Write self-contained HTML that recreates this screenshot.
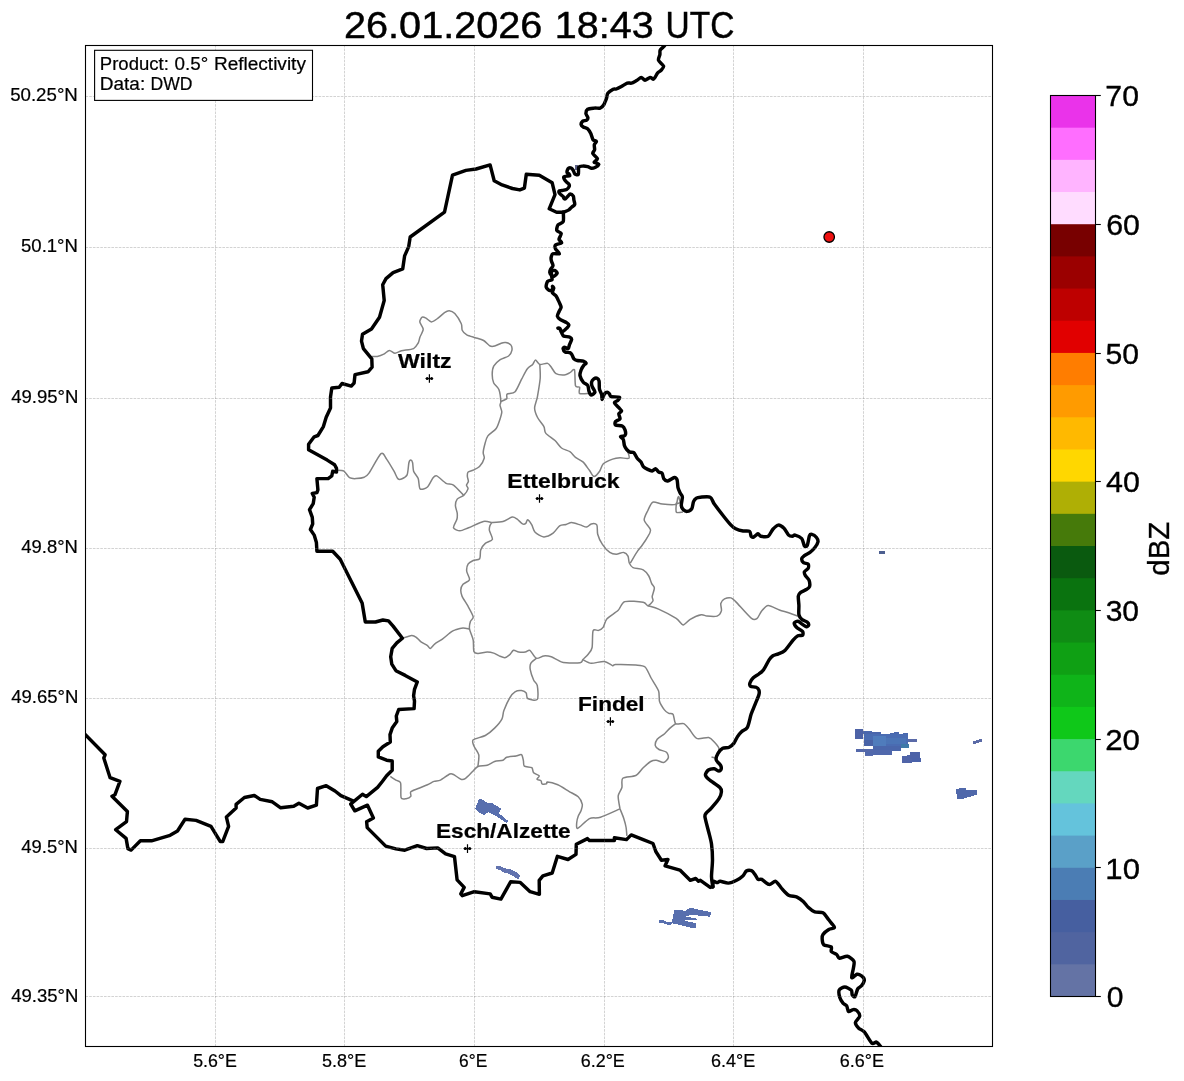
<!DOCTYPE html>
<html><head><meta charset="utf-8"><title>Radar</title>
<style>html,body{margin:0;padding:0;background:#fff;}body{width:1184px;height:1081px;overflow:hidden;}svg{display:block;will-change:transform;}text{font-family:"Liberation Sans",sans-serif;fill:#000;}</style></head><body>
<svg width="1184" height="1081" viewBox="0 0 1184 1081">
<rect x="0" y="0" width="1184" height="1081" fill="#ffffff"/>
<defs><clipPath id="ax"><rect x="85.5" y="45.5" width="907.0" height="1001.0"/></clipPath></defs>
<g clip-path="url(#ax)">
<g shape-rendering="crispEdges">
<path d="M475.1 808.7 L478.9 799.3 L481.2 799.1 L488.3 803.4 L490.3 803.4 L491.8 802.9 L496.4 805.7 L500.9 808.7 L500.4 810.8 L498.9 813.3 L508.0 820.9 L507.0 822.7 L505.5 822.4 L496.4 816.3 L492.3 813.8 L488.3 812.3 L484.7 814.6 L482.7 814.6 L478.1 811.8 Z" fill="#586fae"/>
<path d="M495.9 866.1 L499.5 865.9 L507.9 869.5 L510.6 869.0 L518.4 873.5 L519.9 874.9 L519.8 876.9 L518.7 878.6 L517.4 878.6 L513.0 876.2 L507.9 873.5 L504.2 872.5 L499.1 869.7 L495.9 868.8 Z" fill="#6273af"/>
<path d="M659.1 920.4 L663.5 920.4 L667.1 922.2 L671.8 922.2 L672.4 919.2 L673.3 914.5 L674.2 910.3 L681.0 910.3 L686.3 910.9 L687.5 908.6 L692.8 908.3 L698.1 909.5 L706.4 911.2 L710.8 912.4 L710.5 914.8 L709.6 916.6 L704.0 916.3 L696.9 915.4 L690.4 915.1 L686.9 916.0 L685.7 917.1 L692.8 917.7 L696.6 918.6 L696.6 920.4 L691.6 920.4 L685.1 920.1 L685.1 921.0 L692.2 922.2 L696.3 923.4 L696.0 927.5 L690.4 927.5 L683.9 926.0 L676.8 924.2 L672.1 923.4 L671.5 924.5 L667.4 924.5 L662.6 923.1 L659.1 922.5 Z" fill="#586fae"/>
<path d="M973.1 741.4 L975.9 740.4 L979.0 739.4 L982.1 739.0 L982.1 741.8 L979.0 742.5 L975.9 743.5 L973.1 743.9 Z" fill="#5a6aa6"/>
<path d="M956.1 789.3 L960.3 788.3 L965.8 788.3 L966.8 790.3 L971.4 790.3 L976.9 790.0 L976.9 794.5 L970.7 796.6 L963.0 798.7 L957.1 798.7 L957.1 793.8 L956.1 793.5 Z" fill="#5068aa"/>
<path d="M879.1 551.0 L885.0 551.0 L885.0 553.8 L879.1 553.8 Z" fill="#4d5f90"/>
<path d="M575.1 165.2 L578.4 165.2 L578.4 169.5 L575.1 169.5 Z" fill="#5a5f85"/>
<path d="M855.1 729.2 L863.2 729.2 L863.2 738.6 L855.1 738.6 Z" fill="#4d62a6"/>
<path d="M863.2 731.3 L872.1 731.3 L872.1 734.4 L863.2 734.4 Z" fill="#4a68ae"/>
<path d="M863.2 732.3 L880.8 732.3 L880.8 734.4 L863.2 734.4 Z" fill="#4a66ab"/>
<path d="M864.1 734.2 L908.1 734.2 L908.1 746.4 L864.1 746.4 Z" fill="#4a6cb2"/>
<path d="M890.1 733.2 L898.8 733.2 L898.8 734.4 L890.1 734.4 Z" fill="#4a68ae"/>
<path d="M894.3 731.9 L898.8 731.9 L898.8 733.4 L894.3 733.4 Z" fill="#4a68ae"/>
<path d="M903.3 733.2 L907.8 733.2 L907.8 734.4 L903.3 734.4 Z" fill="#4a68ae"/>
<path d="M908.1 739.0 L917.1 739.0 L917.1 741.6 L908.1 741.6 Z" fill="#5a6aa8"/>
<path d="M901.3 744.0 L908.7 744.0 L908.7 747.7 L901.3 747.7 Z" fill="#3f7aa8"/>
<path d="M873.1 746.2 L901.0 746.2 L901.0 750.6 L873.1 750.6 Z" fill="#4a66ab"/>
<path d="M865.4 750.4 L891.7 750.4 L891.7 754.7 L865.4 754.7 Z" fill="#5068ac"/>
<path d="M865.4 754.5 L873.1 754.5 L873.1 755.7 L865.4 755.7 Z" fill="#5a6cae"/>
<path d="M856.1 749.3 L873.1 749.3 L873.1 751.8 L856.1 751.8 Z" fill="#5468aa"/>
<path d="M873.0 736.0 L886.0 736.0 L886.0 745.5 L873.0 745.5 Z" fill="#4f7cbc"/>
<path d="M886.0 737.5 L906.0 737.5 L906.0 743.5 L886.0 743.5 Z" fill="#4b74b6"/>
<path d="M864.1 740.0 L873.0 740.0 L873.0 746.4 L864.1 746.4 Z" fill="#4862a6"/>
<path d="M902.3 756.3 L911.9 756.3 L911.9 762.8 L902.3 762.8 Z" fill="#5064a8"/>
<path d="M906.5 755.1 L911.9 755.1 L911.9 756.5 L906.5 756.5 Z" fill="#5064a8"/>
<path d="M910.3 752.2 L919.6 752.2 L919.6 758.5 L910.3 758.5 Z" fill="#4c62a8"/>
<path d="M911.9 758.3 L920.9 758.3 L920.9 761.8 L911.9 761.8 Z" fill="#4a62aa"/>
</g>
<g fill="none" stroke="#828282" stroke-width="1.5" stroke-linejoin="round" stroke-linecap="butt">
<path d="M371.8 356.4 C372.5 356.4 375.7 356.7 377.3 356.4 C378.9 356.1 382.2 355.0 383.8 354.2 C385.4 353.4 387.9 350.5 389.4 350.4 C390.9 350.3 393.4 353.1 395.0 353.2 C396.6 353.3 399.0 351.4 401.5 350.8 C404.0 350.2 411.4 349.6 413.6 348.6 C415.8 347.6 417.3 344.5 418.2 343.0 C419.1 341.5 419.3 338.8 420.0 337.0 C420.7 335.2 423.2 331.3 423.2 329.3 C423.2 327.3 419.9 323.5 419.8 321.9 C419.7 320.3 421.4 317.7 422.2 317.2 C423.0 316.7 424.8 317.6 426.0 318.2 C427.2 318.8 429.9 321.9 431.5 321.9 C433.1 321.9 436.3 319.4 438.0 318.2 C439.7 317.0 443.0 313.6 444.5 312.6 C446.0 311.6 447.8 310.6 449.2 310.7 C450.6 310.8 453.2 311.8 454.8 313.5 C456.4 315.2 460.3 321.5 461.3 323.7 C462.3 325.9 461.5 328.7 462.2 330.2 C462.9 331.7 465.1 333.9 466.8 334.9 C468.5 335.9 473.0 337.0 475.2 337.7 C477.4 338.4 481.6 339.4 483.6 340.5 C485.6 341.6 488.6 345.3 490.1 346.0 C491.6 346.7 493.2 346.4 494.7 346.0 C496.2 345.6 499.7 343.7 501.2 343.2 C502.7 342.7 504.5 342.4 505.8 342.6 C507.1 342.8 510.0 343.9 510.8 344.9 C511.6 345.9 512.2 348.9 511.9 350.4 C511.6 351.9 510.2 354.8 508.6 356.0 C507.0 357.2 502.2 358.3 500.2 359.7 C498.2 361.1 494.8 364.2 493.7 366.2 C492.6 368.2 492.2 372.4 492.2 374.6 C492.2 376.8 492.8 381.0 493.7 383.0 C494.6 385.0 498.0 387.0 498.9 389.5 C499.8 392.0 500.7 399.4 500.8 401.5 C500.9 403.6 499.9 403.9 500.0 405.3 C500.1 406.7 501.8 409.9 501.8 411.8 C501.8 413.7 500.7 417.0 500.0 419.2 C499.3 421.4 497.8 426.3 496.2 428.5 C494.6 430.7 489.4 433.9 487.9 435.9 C486.4 437.9 485.7 441.1 485.1 443.3 C484.5 445.5 483.3 450.6 483.2 452.6 C483.1 454.6 484.7 456.3 484.2 458.2 C483.7 460.1 481.0 465.0 479.5 466.6 C478.0 468.2 474.5 469.6 473.0 470.3 C471.5 471.0 468.7 471.2 468.0 472.1 C467.3 473.0 467.3 475.6 467.4 476.8 C467.5 478.0 468.5 480.3 468.4 481.4 C468.3 482.5 466.6 484.1 466.5 485.1 C466.4 486.1 468.4 487.5 468.0 488.9 C467.6 490.3 465.1 494.0 463.7 495.4 C462.3 496.8 458.3 497.7 457.2 499.1 C456.1 500.5 455.4 503.7 455.4 505.6 C455.4 507.5 457.0 511.2 457.2 513.0 C457.4 514.8 457.4 517.3 456.9 519.3 C456.4 521.3 453.1 526.2 453.5 527.7 C453.9 529.2 458.0 530.8 460.0 530.8 C462.0 530.8 465.5 528.9 468.6 527.7 C471.7 526.5 480.3 522.2 483.4 521.5 C486.5 520.8 490.7 522.5 491.8 522.6"/>
<path d="M500.8 401.5 C501.6 401.1 505.9 399.7 506.7 398.7 C507.5 397.7 506.0 395.0 507.1 394.1 C508.2 393.2 513.2 393.7 515.1 391.7 C517.0 389.7 520.0 382.2 521.6 379.2 C523.2 376.2 525.7 371.0 527.2 369.0 C528.7 367.0 531.6 365.6 532.7 364.4 C533.8 363.2 534.6 360.1 535.5 360.1 C536.4 360.1 538.2 364.0 539.8 364.4 C541.4 364.8 546.1 363.0 547.6 363.4 C549.1 363.8 550.2 365.8 551.3 367.2 C552.4 368.6 554.3 372.7 556.0 373.7 C557.7 374.7 562.4 375.1 564.3 375.0 C566.2 374.9 568.5 373.4 569.9 372.7 C571.3 372.0 573.8 368.2 574.5 369.9 C575.2 371.6 574.8 383.4 575.5 385.7 C576.2 388.0 579.1 386.2 579.6 387.2 C580.1 388.2 578.3 392.7 579.6 393.5 C580.9 394.3 588.1 393.5 589.4 393.5"/>
<path d="M539.8 364.4 C539.9 366.3 540.5 374.0 540.2 378.3 C539.9 382.6 538.1 392.9 537.4 396.9 C536.7 400.9 534.6 405.3 534.6 408.0 C534.6 410.7 536.2 414.8 537.4 417.3 C538.6 419.8 542.8 424.5 543.9 426.6 C545.0 428.7 544.2 431.2 545.7 433.1 C547.2 435.0 552.9 438.5 555.0 440.5 C557.1 442.5 559.5 446.5 561.5 448.0 C563.5 449.5 568.0 450.5 569.9 451.7 C571.8 452.9 573.8 455.9 575.5 457.3 C577.2 458.7 581.0 460.2 582.9 461.9 C584.8 463.6 587.9 468.4 589.4 470.3 C590.9 472.2 592.6 476.3 594.0 476.4 C595.4 476.5 598.4 472.9 599.6 471.2 C600.8 469.5 601.6 465.4 603.3 463.8 C605.0 462.2 610.4 459.9 612.6 459.1 C614.8 458.3 617.9 457.9 620.1 457.8 C622.3 457.7 628.0 459.1 629.0 458.2 C630.0 457.3 627.7 451.8 627.5 450.8"/>
<path d="M336.5 470.3 C337.5 470.4 342.2 470.2 343.9 471.2 C345.6 472.2 347.9 476.7 349.5 477.7 C351.1 478.7 354.0 478.7 356.0 478.6 C358.0 478.5 362.6 477.9 364.3 477.2 C366.0 476.5 366.8 476.2 369.0 473.1 C371.2 470.0 378.7 455.5 381.0 453.6 C383.3 451.7 384.9 456.8 386.6 459.1 C388.3 461.4 392.5 468.6 394.0 471.2 C395.5 473.8 396.8 477.6 397.8 478.6 C398.8 479.6 400.3 479.5 401.5 479.0 C402.7 478.5 406.1 477.1 407.1 474.9 C408.1 472.7 408.4 464.8 408.9 462.8 C409.4 460.8 410.3 460.1 410.8 460.1 C411.3 460.1 412.2 461.3 412.6 462.8 C413.0 464.3 412.9 469.1 413.6 471.2 C414.3 473.3 417.3 476.2 418.2 478.6 C419.1 481.0 418.9 487.8 420.1 488.9 C421.3 490.0 425.8 488.5 427.5 487.0 C429.2 485.5 431.9 479.2 433.1 477.7 C434.3 476.2 435.1 475.2 436.8 475.9 C438.5 476.6 443.9 482.1 446.1 483.3 C448.3 484.5 451.2 483.5 453.5 485.1 C455.8 486.7 462.3 494.0 463.7 495.4"/>
<path d="M491.8 522.6 C493.3 522.5 500.3 522.2 503.0 521.5 C505.7 520.8 510.3 517.4 512.2 517.1 C514.1 516.8 515.5 518.0 516.9 518.9 C518.3 519.8 521.3 523.3 522.5 523.9 C523.7 524.5 525.1 524.0 525.8 523.4 C526.5 522.8 526.9 519.5 527.7 519.7 C528.5 519.9 530.8 523.2 531.8 524.9 C532.8 526.6 533.5 530.7 535.1 532.3 C536.7 533.9 541.4 536.8 543.8 536.9 C546.2 537.0 551.0 534.7 553.1 533.2 C555.2 531.7 557.9 527.0 559.6 525.8 C561.3 524.6 564.5 524.9 566.1 524.5 C567.7 524.1 569.8 522.5 571.7 522.6 C573.6 522.7 578.1 524.3 580.1 524.9 C582.1 525.5 585.1 527.2 586.6 527.1 C588.1 527.0 589.8 524.2 591.2 523.9 C592.6 523.6 595.9 523.5 596.8 524.9 C597.7 526.3 597.0 531.6 597.7 534.2 C598.4 536.8 600.8 542.0 602.4 544.4 C604.0 546.8 607.9 551.1 609.8 552.4 C611.7 553.7 614.4 554.2 616.3 554.2 C618.2 554.2 622.1 552.1 623.7 552.4 C625.3 552.7 627.3 554.7 628.0 556.1 C628.7 557.5 628.6 561.5 629.3 563.0 C630.0 564.5 631.1 566.7 633.0 567.6 C634.9 568.5 641.1 568.7 643.2 569.8 C645.3 570.9 647.7 574.2 648.8 576.0 C649.9 577.8 650.9 581.8 651.6 583.4 C652.3 585.0 654.3 586.3 654.4 588.0 C654.5 589.7 652.4 594.7 652.2 596.4 C652.0 598.1 653.5 599.8 652.9 601.0 C652.3 602.2 649.2 605.5 647.9 605.7 C646.6 605.9 646.3 602.8 643.2 602.3 C640.1 601.8 628.0 600.5 624.7 601.6 C621.4 602.7 620.6 608.0 618.2 610.3 C615.8 612.6 609.0 616.5 607.0 618.7 C605.0 620.9 604.4 625.5 603.3 627.1 C602.2 628.7 600.0 629.9 598.6 630.4 C597.2 630.9 594.0 628.5 593.1 630.8 C592.2 633.1 592.7 644.4 592.1 647.5 C591.5 650.6 589.6 652.4 588.4 654.0 C587.2 655.6 584.0 658.4 582.9 659.6 C581.8 660.8 582.7 662.3 580.1 662.7 C577.5 663.1 566.3 662.7 563.3 662.4 C560.3 662.1 559.4 660.8 557.8 660.1 C556.2 659.4 553.2 657.4 551.3 656.8 C549.4 656.2 545.8 655.7 543.8 655.9 C541.8 656.1 538.3 659.0 536.4 658.3 C534.5 657.6 531.4 651.1 529.9 650.3 C528.4 649.5 526.8 651.9 525.3 652.1 C523.8 652.3 520.3 652.3 518.7 652.1 C517.1 651.9 514.7 649.9 513.5 650.3 C512.3 650.7 510.7 653.9 509.5 654.9 C508.3 655.9 506.2 657.6 504.8 657.7 C503.4 657.8 500.7 656.5 499.2 655.9 C497.7 655.3 495.3 653.6 493.7 653.1 C492.1 652.6 489.3 652.1 487.2 652.1 C485.1 652.1 479.7 653.5 477.9 653.4 C476.1 653.3 474.4 653.0 473.8 651.2 C473.2 649.4 473.8 643.1 473.2 640.1 C472.6 637.1 469.9 631.4 469.5 628.9 C469.1 626.4 469.9 623.1 470.4 621.5 C470.9 619.9 473.6 618.9 473.2 616.8 C472.8 614.7 469.2 608.4 467.7 605.7 C466.2 603.0 463.0 598.5 462.1 596.4 C461.2 594.3 460.7 591.5 460.8 589.9 C460.9 588.3 461.8 585.7 463.0 584.3 C464.2 582.9 469.0 581.4 469.5 579.7 C470.0 578.0 466.9 573.4 466.7 571.3 C466.5 569.2 467.3 565.3 468.2 563.9 C469.1 562.5 471.7 561.2 473.2 560.5 C474.7 559.8 478.7 560.1 479.7 558.7 C480.7 557.3 480.0 551.9 480.7 549.9 C481.4 547.9 483.7 544.8 485.3 543.4 C486.9 542.0 491.9 541.1 492.4 539.4 C492.9 537.7 489.7 532.2 489.4 530.4 C489.1 528.6 489.6 526.8 489.9 525.8 C490.2 524.8 491.5 523.0 491.8 522.6"/>
<path d="M630.3 563.0 C631.3 561.4 636.1 553.2 637.7 550.9 C639.3 548.6 640.8 547.2 642.0 545.5 C643.2 543.8 645.9 540.0 647.0 537.9 C648.1 535.8 650.9 532.4 650.5 530.0 C650.1 527.6 644.5 522.6 644.2 520.0 C643.9 517.4 646.9 512.6 648.0 510.2 C649.1 507.8 650.9 503.0 652.8 502.2 C654.7 501.4 659.3 503.8 662.3 504.1 C665.3 504.4 673.4 505.2 675.5 504.4 C677.6 503.6 677.3 499.2 677.7 498.2 C678.1 497.2 678.5 496.2 678.8 496.8 C679.1 497.4 680.2 501.5 679.9 502.5 C679.6 503.5 677.0 503.0 676.5 504.3 C676.0 505.6 675.6 511.3 676.5 512.3 C677.4 513.3 682.1 512.0 683.0 512.0"/>
<path d="M647.9 605.7 C649.3 606.2 654.8 607.4 658.6 609.1 C662.4 610.8 672.9 616.3 676.2 618.4 C679.5 620.5 681.2 624.8 683.1 624.9 C685.0 625.0 687.8 620.7 690.2 619.3 C692.6 617.9 699.1 615.1 701.3 614.7 C703.5 614.3 704.8 615.9 706.9 616.1 C709.0 616.3 715.2 616.8 717.1 616.1 C719.0 615.4 720.9 612.6 721.4 610.9 C721.9 609.2 720.4 605.1 720.8 603.5 C721.2 601.9 723.1 599.6 724.5 598.9 C725.9 598.2 729.5 597.5 731.0 597.9 C732.5 598.3 733.0 598.9 735.7 601.6 C738.4 604.3 748.6 616.2 751.5 618.4 C754.4 620.6 755.7 619.4 757.1 618.4 C758.5 617.4 760.2 612.6 761.7 610.9 C763.2 609.2 765.8 605.5 768.2 605.4 C770.6 605.3 776.7 609.0 779.4 610.0 C782.1 611.0 786.0 611.9 788.6 612.8 C791.2 613.7 797.5 616.0 798.9 616.5"/>
<path d="M469.5 628.9 C468.6 628.8 464.9 627.9 463.0 628.0 C461.1 628.1 457.1 629.3 455.6 629.8 C454.1 630.3 453.4 630.5 451.6 631.7 C449.8 632.9 444.6 637.5 442.4 639.1 C440.2 640.7 436.5 642.6 434.9 643.8 C433.3 645.0 431.3 648.2 430.3 648.4 C429.3 648.6 428.7 646.5 427.5 645.6 C426.3 644.7 422.5 643.0 421.0 641.9 C419.5 640.8 417.5 638.2 416.3 637.3 C415.1 636.4 413.6 635.3 411.7 635.4 C409.8 635.5 403.6 637.8 402.4 638.2"/>
<path d="M536.4 658.3 C535.7 659.0 531.6 661.8 530.8 663.3 C530.0 664.8 529.9 667.6 530.3 669.8 C530.7 672.0 532.7 677.9 533.6 680.0 C534.5 682.1 536.8 683.0 537.3 685.6 C537.8 688.2 538.6 697.7 537.3 699.4 C536.0 701.1 529.2 699.4 527.7 698.5 C526.2 697.6 527.0 694.1 526.2 693.0 C525.4 691.9 523.0 690.8 521.5 690.6 C520.0 690.4 516.5 690.9 515.0 691.8 C513.5 692.7 511.5 695.0 510.0 697.5 C508.5 700.0 505.0 707.6 503.9 710.4 C502.8 713.2 503.2 716.4 502.0 718.8 C500.8 721.2 496.8 725.9 494.6 728.1 C492.4 730.3 488.2 733.9 485.3 735.5 C482.4 737.1 474.7 738.4 473.2 739.8 C471.7 741.2 473.1 743.7 473.8 745.7 C474.5 747.7 478.3 752.2 478.8 755.0 C479.3 757.8 478.0 765.0 477.9 766.5"/>
<path d="M390.3 776.4 C391.0 776.9 394.5 779.2 395.9 780.1 C397.3 781.0 399.9 780.5 400.6 782.9 C401.3 785.3 400.4 795.7 401.1 797.8 C401.8 799.9 404.8 798.9 406.1 798.7 C407.4 798.5 410.2 797.2 410.8 796.3 C411.4 795.4 409.8 792.8 410.8 791.8 C411.8 790.8 416.0 789.4 418.2 788.5 C420.4 787.6 425.4 785.7 427.5 784.8 C429.6 783.9 432.3 782.0 434.0 781.4 C435.7 780.8 438.4 781.1 440.5 780.1 C442.6 779.1 448.1 774.7 449.8 774.0 C451.5 773.3 452.0 773.8 453.5 774.5 C455.0 775.2 459.3 778.7 460.9 779.2 C462.5 779.7 464.1 779.3 465.6 778.3 C467.1 777.3 470.7 773.4 472.3 771.8 C473.9 770.2 475.9 767.4 477.9 766.5 C479.9 765.6 485.0 766.0 487.2 765.3 C489.4 764.6 492.5 762.2 494.6 761.5 C496.7 760.8 501.4 760.8 503.0 760.2 C504.6 759.6 505.0 757.9 506.7 757.3 C508.4 756.7 514.0 756.3 516.0 756.0 C518.0 755.7 520.5 754.1 521.5 754.7 C522.5 755.3 523.0 759.1 523.4 760.6 C523.8 762.1 523.2 765.3 524.3 766.2 C525.4 767.1 530.6 766.8 531.8 767.7 C533.0 768.6 532.6 771.6 533.6 772.7 C534.6 773.8 538.7 774.9 539.2 775.8 C539.7 776.7 536.8 778.5 537.0 779.2 C537.2 779.9 540.3 780.1 541.0 780.7 C541.7 781.3 541.3 783.4 542.0 783.8 C542.7 784.2 545.9 784.0 546.6 783.8 C547.3 783.6 546.0 781.9 547.5 782.0 C549.0 782.1 554.9 783.6 557.8 784.8 C560.7 786.0 566.2 789.7 568.9 791.3 C571.6 792.9 576.4 795.1 578.2 796.8 C580.0 798.5 581.9 802.4 582.3 804.3 C582.7 806.2 581.5 809.2 581.0 810.8 C580.5 812.4 578.8 814.7 578.2 816.3 C577.6 817.9 576.8 821.2 576.7 822.8 C576.6 824.4 576.1 829.0 577.8 828.4 C579.5 827.8 586.4 820.1 589.4 818.6 C592.4 817.1 596.4 818.6 600.5 817.3 C604.6 816.0 617.4 810.0 620.0 808.9"/>
<path d="M620.0 808.9 C620.5 810.1 622.9 815.7 623.7 818.2 C624.5 820.7 625.7 825.1 626.1 827.5 C626.5 829.9 626.8 834.8 626.9 835.9"/>
<path d="M620.0 808.9 C619.8 807.2 617.9 798.8 618.2 795.9 C618.5 793.0 621.3 789.8 621.9 787.5 C622.5 785.2 620.9 779.9 622.8 778.3 C624.7 776.7 633.1 776.9 635.8 775.5 C638.5 774.1 641.2 769.6 643.2 767.7 C645.2 765.8 649.0 762.5 650.7 761.5 C652.4 760.5 654.5 760.1 656.2 760.2 C657.9 760.3 662.1 762.8 663.7 762.5 C665.3 762.2 667.9 759.2 668.3 757.8 C668.7 756.4 667.7 753.3 666.5 752.2 C665.3 751.1 660.5 750.4 659.0 749.5 C657.5 748.6 655.5 747.1 655.3 745.7 C655.1 744.3 656.0 740.8 657.2 739.2 C658.4 737.6 662.9 735.2 664.6 733.7 C666.3 732.2 668.5 729.4 670.0 728.1 C671.5 726.8 674.9 724.2 675.7 723.6"/>
<path d="M582.9 659.6 C584.0 660.1 588.4 663.1 591.2 663.3 C594.0 663.5 601.3 661.1 604.2 661.4 C607.1 661.7 611.1 665.3 612.6 665.7 C614.1 666.1 612.3 664.7 615.4 664.6 C618.5 664.5 631.8 664.8 635.8 665.1 C639.8 665.4 643.1 665.3 645.1 667.0 C647.1 668.7 649.3 674.8 651.1 678.0 C652.9 681.2 657.5 687.9 658.6 691.0 C659.7 694.1 658.8 698.8 659.5 701.3 C660.2 703.8 663.0 708.0 664.2 709.6 C665.4 711.2 667.6 712.7 668.8 713.3 C670.0 713.9 672.2 712.9 673.1 714.3 C674.0 715.7 674.3 722.4 675.7 723.6 C677.1 724.8 681.9 722.9 683.7 723.6 C685.5 724.3 687.5 727.1 689.2 729.1 C690.9 731.1 694.1 737.3 696.7 738.4 C699.3 739.5 706.4 737.0 708.7 737.5 C711.0 738.0 712.9 740.6 714.3 742.1 C715.7 743.6 718.6 747.1 719.0 748.6 C719.4 750.1 717.7 752.8 717.5 753.5"/>
<path d="M711.5 757.0 L715.3 757.9"/>
</g>
<g fill="none" stroke="#000" stroke-width="3.45" stroke-linejoin="round" stroke-linecap="round">
<path d="M563.3 212.2 C563.3 213.5 563.9 220.0 563.2 221.7 C562.5 223.4 559.0 223.6 558.1 224.8 C557.2 226.0 556.4 229.3 556.8 230.5 C557.2 231.7 560.9 232.3 561.2 233.5 C561.5 234.7 558.9 238.1 559.0 239.3 C559.1 240.5 562.1 242.0 561.6 242.8 C561.1 243.6 556.3 244.2 555.5 245.0 C554.7 245.8 555.0 247.7 555.5 248.9 C556.0 250.1 559.8 253.1 559.4 253.7 C559.0 254.3 553.9 253.2 552.8 253.7 C551.7 254.2 551.3 256.7 551.1 257.7 C550.9 258.7 551.2 260.1 551.5 261.2 C551.8 262.3 553.1 264.5 553.0 265.6 C552.9 266.7 550.9 268.6 550.5 269.5 C550.1 270.4 549.7 271.7 549.8 272.5 C549.9 273.3 550.9 274.7 551.5 275.2 C552.1 275.7 553.4 276.4 554.2 276.1 C555.0 275.8 557.1 273.9 557.2 273.1 C557.3 272.3 555.3 270.6 554.6 270.4 C553.9 270.2 552.0 270.9 551.6 271.6 C551.2 272.3 551.5 274.9 551.6 276.0 C551.7 277.1 552.5 279.0 552.0 279.7 C551.5 280.4 548.4 280.4 547.6 281.4 C546.8 282.4 545.9 285.9 546.2 287.1 C546.5 288.3 548.8 290.4 549.8 290.6 C550.8 290.8 553.4 289.0 553.7 288.4 C554.0 287.8 552.5 286.3 552.4 286.4 C552.3 286.5 553.3 288.6 553.3 289.5 C553.3 290.4 552.0 291.9 552.4 292.8 C552.8 293.7 555.5 295.3 556.3 296.3 C557.1 297.3 557.6 299.1 558.1 300.0 C558.6 300.9 559.3 302.4 559.7 303.4 C560.1 304.4 561.2 306.3 561.1 307.4 C561.0 308.5 559.6 310.3 559.1 311.5 C558.6 312.7 557.2 315.1 557.4 316.2 C557.6 317.3 559.2 318.7 560.4 319.6 C561.6 320.5 565.4 321.9 566.5 322.6 C567.6 323.3 568.8 324.3 568.9 325.0 C569.0 325.7 568.1 326.8 567.2 327.7 C566.3 328.6 563.4 331.7 562.4 331.8 C561.4 331.9 560.3 328.9 559.7 328.4 C559.1 327.9 557.9 328.2 557.9 328.2 C557.9 328.2 559.2 327.9 559.7 328.6 C560.2 329.3 561.3 332.1 561.8 333.1 C562.3 334.1 562.7 335.6 563.8 336.1 C564.9 336.6 568.9 336.7 569.9 337.2 C570.9 337.7 571.7 338.5 571.6 339.5 C571.5 340.5 570.0 343.4 569.5 344.6 C569.0 345.8 568.9 348.2 568.2 348.6 C567.5 349.0 565.2 347.3 564.5 347.3 C563.8 347.3 563.0 348.0 563.1 348.6 C563.2 349.2 564.2 351.5 565.1 352.0 C566.0 352.5 569.0 352.3 569.9 352.7 C570.8 353.1 571.4 353.9 571.9 354.7 C572.4 355.5 573.2 358.0 573.9 358.8 C574.6 359.6 576.0 360.2 577.3 360.5 C578.6 360.8 582.2 360.7 583.4 361.1 C584.6 361.5 586.0 362.7 586.1 363.2 C586.2 363.7 584.8 364.0 584.1 364.9 C583.4 365.8 581.6 368.6 581.1 370.0 C580.6 371.4 579.7 374.0 580.0 375.6 C580.3 377.2 582.3 380.9 583.3 382.2 C584.3 383.5 587.1 384.3 587.8 385.5 C588.5 386.7 588.5 389.8 588.9 391.1 C589.3 392.4 590.3 394.9 591.1 395.0 C591.9 395.1 594.9 393.3 595.0 392.2 C595.1 391.1 592.7 388.0 592.2 386.7 C591.7 385.4 591.4 383.2 591.6 382.2 C591.8 381.2 593.2 379.4 593.9 378.9 C594.6 378.4 596.5 378.0 597.2 378.3 C597.9 378.6 598.8 379.7 599.1 381.1 C599.4 382.5 599.1 387.1 599.4 388.9 C599.7 390.7 601.2 393.0 601.6 394.4 C602.0 395.8 601.8 399.5 602.2 399.4 C602.6 399.3 603.7 394.9 604.4 393.9 C605.1 392.9 606.5 392.2 607.2 392.2 C607.9 392.2 608.9 393.3 609.4 393.9 C609.9 394.5 609.8 396.2 611.1 396.6 C612.4 397.0 618.5 396.7 619.4 397.2 C620.3 397.7 618.4 399.8 617.7 400.5 C617.0 401.2 614.3 401.7 614.4 402.7 C614.5 403.7 617.8 406.6 618.8 407.7 C619.8 408.8 621.6 410.3 621.6 411.1 C621.6 411.9 619.0 412.8 618.8 413.8 C618.6 414.8 620.4 417.8 620.0 418.8 C619.6 419.8 616.1 420.8 615.5 421.6 C614.9 422.4 614.6 424.4 615.5 425.0 C616.4 425.6 620.9 425.4 622.2 426.1 C623.5 426.8 624.6 428.8 625.0 429.9 C625.4 431.0 625.7 433.6 625.5 434.4 C625.3 435.2 624.5 435.8 623.8 436.1 C623.1 436.4 620.6 436.2 620.5 436.6 C620.4 437.0 622.8 438.2 623.3 439.4 C623.8 440.6 624.0 444.2 624.4 445.5 C624.8 446.8 625.9 448.5 626.6 449.4 C627.3 450.3 629.0 451.7 630.0 452.1 C631.0 452.5 632.8 451.9 633.8 452.7 C634.8 453.5 636.2 457.0 637.2 458.3 C638.2 459.6 640.2 461.0 641.0 462.1 C641.8 463.2 642.4 465.6 643.3 466.6 C644.2 467.6 646.5 468.8 647.7 469.4 C648.9 470.0 651.1 471.1 652.1 471.0 C653.1 470.9 654.6 468.7 655.5 468.8 C656.4 468.9 657.9 471.5 658.8 472.1 C659.7 472.7 661.4 472.3 662.1 473.2 C662.8 474.1 663.1 477.8 663.8 478.8 C664.5 479.8 666.3 481.2 667.7 481.0 C669.1 480.8 673.1 477.6 674.4 477.5 C675.7 477.4 676.6 478.6 677.1 479.9 C677.6 481.2 677.6 485.8 678.0 487.6 C678.4 489.4 679.7 491.9 680.3 493.2 C680.9 494.5 682.3 495.4 682.4 497.0 C682.5 498.6 681.2 503.6 681.3 505.3 C681.4 507.0 682.6 509.0 683.4 509.8 C684.2 510.6 686.1 511.5 687.2 511.4 C688.3 511.3 691.0 510.0 691.8 508.7 C692.6 507.4 692.9 503.0 693.5 501.6 C694.1 500.2 695.5 498.7 696.4 498.1 C697.3 497.5 698.6 497.3 700.4 497.2 C702.2 497.1 708.3 496.3 710.2 497.2 C712.1 498.1 712.5 501.6 714.3 504.1 C716.1 506.6 721.4 513.4 723.6 516.2 C725.8 519.0 729.4 523.4 731.0 525.1 C732.6 526.8 734.1 528.0 735.7 528.8 C737.3 529.6 741.2 530.7 743.1 531.0 C745.0 531.3 748.5 530.7 749.6 531.4 C750.7 532.1 750.6 535.5 751.1 536.2 C751.6 536.9 752.8 537.3 753.7 537.0 C754.6 536.7 757.1 533.9 758.0 533.8 C758.9 533.7 759.4 535.9 760.8 536.2 C762.2 536.5 766.6 537.1 768.2 536.2 C769.8 535.3 771.5 530.7 772.9 529.2 C774.3 527.7 776.9 525.2 778.4 525.1 C779.9 525.0 782.6 527.0 784.0 528.3 C785.4 529.6 787.5 534.0 788.6 535.1 C789.7 536.2 791.5 536.2 792.4 536.2 C793.3 536.2 793.9 534.8 795.1 535.1 C796.3 535.4 800.5 537.1 801.7 538.5 C802.9 539.9 803.7 545.0 804.4 545.9 C805.1 546.8 806.5 546.9 807.2 545.5 C807.9 544.1 808.9 537.2 809.5 535.7 C810.1 534.2 811.0 534.2 811.9 534.4 C812.8 534.6 815.7 536.5 816.5 537.5 C817.3 538.5 818.2 540.4 818.0 541.8 C817.8 543.2 815.8 546.4 814.7 547.8 C813.6 549.2 811.4 551.4 810.0 552.4 C808.6 553.4 805.5 554.7 804.4 555.6 C803.3 556.5 801.8 558.0 801.7 558.9 C801.6 559.8 802.6 561.9 803.5 562.6 C804.4 563.3 807.6 563.4 808.2 564.1 C808.8 564.8 808.7 567.2 808.2 568.2 C807.7 569.2 804.8 570.9 804.4 571.9 C804.0 572.9 804.8 574.5 805.4 575.6 C806.0 576.7 808.6 578.8 809.1 580.3 C809.6 581.8 809.9 585.6 809.5 586.8 C809.1 588.0 807.5 588.9 806.3 589.6 C805.1 590.3 801.8 591.5 800.7 592.4 C799.6 593.3 798.5 594.4 798.3 596.1 C798.1 597.8 798.8 602.9 798.9 605.4 C799.0 607.9 798.5 612.8 798.9 614.7 C799.3 616.6 800.6 618.3 801.7 619.3 C802.8 620.3 806.3 621.4 807.2 622.1 C808.1 622.8 808.8 624.3 808.7 624.9 C808.6 625.5 807.2 626.8 806.3 626.7 C805.4 626.6 802.8 624.6 801.7 623.9 C800.6 623.2 798.9 621.3 797.9 621.2 C796.9 621.1 794.3 622.1 794.2 623.0 C794.1 623.9 795.9 626.6 797.0 627.7 C798.1 628.8 801.9 630.4 802.6 631.4 C803.3 632.4 803.2 634.7 802.6 635.3 C802.0 635.9 799.1 635.1 797.9 635.7 C796.7 636.3 795.0 637.9 793.3 639.9 C791.6 641.9 786.9 648.6 784.9 650.5 C782.9 652.4 780.0 653.2 778.4 653.9 C776.8 654.6 774.1 654.9 772.9 655.7 C771.7 656.5 770.3 657.9 769.1 659.8 C767.9 661.7 765.0 667.8 763.6 669.7 C762.2 671.6 760.3 672.9 758.9 674.0 C757.5 675.1 754.5 676.5 753.3 677.7 C752.1 678.9 750.4 681.5 750.0 682.7 C749.6 683.9 749.8 685.8 750.6 686.4 C751.4 687.0 755.0 686.8 756.1 687.3 C757.2 687.8 758.5 689.1 758.9 690.1 C759.3 691.1 759.4 692.9 758.9 694.8 C758.4 696.7 756.2 701.5 755.2 704.1 C754.2 706.7 752.1 711.2 751.1 714.3 C750.1 717.4 748.7 725.0 747.4 727.3 C746.1 729.6 742.6 730.7 741.3 731.9 C740.0 733.1 738.5 735.1 737.5 736.6 C736.5 738.1 734.9 742.0 733.8 743.4 C732.7 744.8 730.7 746.5 729.2 747.2 C727.7 747.9 724.2 747.5 722.7 748.3 C721.2 749.1 718.9 751.8 718.0 753.3 C717.1 754.8 715.8 758.1 716.2 759.8 C716.6 761.5 720.2 764.3 720.8 765.7 C721.4 767.1 721.2 769.3 720.8 770.0 C720.4 770.7 718.9 771.1 718.0 770.9 C717.1 770.7 715.6 768.8 714.3 768.7 C713.0 768.6 709.6 769.2 708.4 770.0 C707.2 770.8 705.4 773.5 705.4 774.7 C705.4 775.9 706.8 777.6 708.7 779.3 C710.6 781.0 718.2 785.8 719.9 787.5 C721.6 789.2 721.5 790.5 721.4 792.0 C721.3 793.5 720.3 796.5 719.0 798.6 C717.7 800.7 713.2 805.9 711.5 807.9 C709.8 809.9 706.9 812.2 706.0 813.4 C705.1 814.6 704.6 814.7 705.0 817.2 C705.4 819.7 707.8 828.4 708.7 832.0 C709.6 835.6 711.0 840.4 711.5 844.1 C712.0 847.8 712.5 855.6 712.5 859.9 C712.5 864.2 711.5 873.0 711.5 876.6 C711.5 880.2 712.6 885.4 712.8 886.8"/>
<path d="M712.8 886.8 L710.2 887.4 L700.4 880.3 L698.5 881.3 L695.7 878.5 L690.2 880.3 L679.9 870.1 L665.1 865.8 L667.9 859.5 L661.4 860.3 L655.8 851.5 L653.0 843.5 L643.2 839.6 L631.2 834.9 L626.5 839.6 L614.4 837.7 L614.4 840.5 L589.4 840.5 L587.5 838.6 L576.3 844.2 L576.0 854.4 L568.0 859.5 L557.4 856.3 L552.2 873.0 L542.9 875.8 L539.2 880.4 L539.4 894.3 L530.1 891.7 L520.3 882.4 L510.6 881.8 L500.9 899.1 L492.0 897.2 L490.2 893.9 L474.4 891.7 L462.3 895.7 L460.8 893.9 L464.2 887.4 L457.1 879.9 L454.5 856.7 L445.6 853.9 L437.7 847.9 L426.6 848.5 L417.3 845.7 L404.8 850.2 L395.9 848.9 L385.7 846.1 L367.2 827.6 L366.6 821.7 L373.4 817.9 L367.5 805.2 L354.8 810.8 L350.7 804.0 L352.7 802.4 L362.5 794.2 L366.3 796.6 L377.6 787.4 L382.3 781.5 L386.6 775.8 L392.2 770.3 L392.2 761.0 L386.6 760.2 L378.3 756.9 L378.3 751.3 L382.9 746.7 L390.3 742.0 L390.0 734.6 L392.2 728.1 L396.8 721.6 L396.3 716.0 L398.7 709.5 L414.1 708.6 L414.5 701.1 L413.6 695.8 L414.5 689.3 L417.3 681.9 L405.2 675.4 L395.9 670.7 L391.8 664.2 L390.7 656.8 L392.2 648.4 L396.8 642.9 L402.4 638.2 L393.1 626.1 L388.5 620.9 L382.9 620.0 L375.5 622.0 L365.3 622.0 L362.1 602.9 L340.2 559.2 L332.7 551.2 L316.9 551.2 L316.4 542.5 L314.2 535.1 L310.4 529.5 L312.7 523.9 L312.3 517.4 L309.5 509.7 L313.2 503.7 L314.2 497.2 L312.3 493.5 L316.9 492.6 L317.9 489.8 L316.9 478.6 L328.1 478.6 L331.8 475.9 L332.7 471.2 L336.5 472.1 L336.5 468.4 L334.6 464.7 L327.2 460.1 L308.6 449.8 L308.6 444.3 L314.2 436.8 L317.9 435.5 L323.4 426.6 L326.2 417.3 L330.5 408.0 L330.5 396.9 L331.8 388.0 L339.2 387.2 L342.0 383.5 L351.3 386.1 L354.1 383.0 L355.0 374.6 L368.0 371.8 L372.1 367.2 L371.8 358.8 L363.4 348.6 L361.5 341.1 L362.5 334.3 L371.5 329.0 L379.5 317.2 L384.2 300.5 L382.7 284.7 L386.0 278.6 L393.1 272.6 L402.7 268.9 L404.6 255.9 L408.7 246.6 L410.2 237.0 L444.5 212.2 L452.5 175.1 L465.9 170.4 L476.1 169.0 L490.1 164.9 L494.2 180.7 L502.1 184.9 L512.4 188.5 L519.8 189.9 L524.4 188.1 L526.3 174.2 L539.3 175.2 L552.2 182.8 L555.0 194.7 L549.2 208.8 L556.6 212.2 L563.3 212.2"/>
<path d="M563.3 212.2 C564.0 211.9 567.8 210.6 568.9 209.9 C570.0 209.2 570.8 207.9 571.6 207.2 C572.4 206.5 574.4 205.4 574.7 204.4 C575.0 203.4 574.1 201.1 573.9 200.0 C573.7 198.9 573.8 196.9 573.3 196.1 C572.8 195.3 570.9 193.9 570.2 193.9 C569.5 193.9 568.6 195.4 568.0 196.1 C567.4 196.8 566.0 198.5 565.5 198.8 C565.0 199.1 564.2 198.6 563.9 198.3 C563.6 198.0 563.8 197.1 563.3 196.6 C562.8 196.1 561.1 195.0 560.5 194.4 C559.9 193.8 559.0 192.7 558.9 192.2 C558.8 191.7 559.0 191.0 559.4 190.8 C559.8 190.6 561.2 190.7 562.2 190.5 C563.2 190.3 565.7 189.9 566.6 189.4 C567.5 188.9 568.8 187.3 569.1 186.6 C569.4 185.9 569.4 185.0 569.1 184.4 C568.8 183.8 567.2 182.9 566.6 182.2 C566.0 181.5 564.8 180.1 564.4 179.4 C564.0 178.7 563.6 177.3 563.9 176.9 C564.2 176.5 565.8 176.2 566.6 176.1 C567.4 176.0 569.4 176.1 569.7 175.8 C570.0 175.5 569.2 174.3 568.9 173.9 C568.6 173.5 567.4 173.3 567.2 172.8 C567.0 172.3 567.0 171.1 567.2 170.5 C567.4 169.9 568.4 168.3 568.9 168.0 C569.4 167.7 570.5 167.7 571.1 168.0 C571.7 168.3 572.8 169.7 573.3 170.5 C573.8 171.3 574.3 173.7 575.0 174.2 C575.7 174.7 577.8 175.3 578.3 174.4 C578.8 173.5 578.2 168.3 578.8 167.2 C579.4 166.1 581.5 166.2 582.7 166.1 C583.9 166.0 586.5 166.4 587.7 166.7 C588.9 167.0 590.6 168.2 591.6 168.3 C592.6 168.4 594.5 167.7 595.5 167.2 C596.5 166.7 598.7 164.9 598.8 164.4 C598.9 163.9 597.2 163.4 596.6 163.1 C596.0 162.8 594.0 162.8 594.1 162.2 C594.2 161.6 597.6 159.8 597.4 158.6 C597.2 157.4 593.2 154.7 592.8 153.5 C592.4 152.3 594.4 151.0 594.6 149.8 C594.8 148.6 594.1 145.8 594.3 144.7 C594.5 143.6 596.6 142.1 596.4 141.4 C596.2 140.7 593.7 140.7 593.0 139.7 C592.3 138.7 591.6 135.3 590.9 133.8 C590.2 132.3 588.6 129.6 587.6 128.7 C586.6 127.8 584.2 127.6 583.3 127.0 C582.4 126.4 581.2 125.3 581.1 124.5 C581.0 123.7 582.1 121.7 582.8 121.1 C583.5 120.5 586.0 120.7 586.7 120.2 C587.4 119.7 588.0 118.6 587.9 117.7 C587.8 116.8 585.9 114.6 585.9 113.5 C585.9 112.4 586.5 110.0 587.6 109.3 C588.7 108.6 592.6 108.3 594.3 108.1 C596.0 107.9 599.0 108.5 600.2 108.1 C601.4 107.7 602.8 106.3 603.6 105.0 C604.4 103.7 605.9 99.9 606.5 98.3 C607.1 96.7 606.9 94.4 607.8 93.2 C608.7 92.0 612.1 89.9 613.2 89.3 C614.3 88.7 615.2 89.4 616.3 89.0 C617.4 88.6 619.9 87.3 621.4 86.5 C622.9 85.7 626.0 83.6 627.3 83.1 C628.6 82.6 630.3 83.4 631.5 83.1 C632.7 82.8 635.3 81.2 636.6 80.5 C637.9 79.8 640.2 77.5 641.3 77.5 C642.4 77.5 643.8 80.2 645.0 80.2 C646.2 80.2 649.0 77.6 650.1 77.5 C651.2 77.4 652.7 79.2 653.4 79.2 C654.1 79.2 654.5 78.0 655.1 77.2 C655.7 76.4 656.9 73.8 657.7 72.9 C658.5 72.0 660.2 71.3 661.0 70.4 C661.8 69.5 663.9 67.5 663.6 66.2 C663.3 64.9 659.0 61.9 658.5 60.3 C658.0 58.7 659.7 55.8 659.9 54.4 C660.1 53.0 659.6 51.2 660.2 50.1 C660.8 49.0 663.5 47.0 664.4 45.9 C665.3 44.8 666.7 42.5 667.0 42.0"/>
<path d="M352.9 800.8 L340.9 795.7 L335.0 791.0 L326.2 785.7 L317.5 788.5 L316.4 805.2 L307.7 808.0 L298.9 803.3 L293.7 806.3 L280.7 807.8 L272.3 801.8 L260.2 799.4 L254.3 795.5 L244.4 797.5 L236.1 804.4 L236.1 808.1 L226.4 817.1 L228.6 826.3 L222.7 841.6 L220.3 841.6 L211.0 826.3 L196.1 820.4 L185.0 819.3 L177.5 831.0 L170.1 835.3 L151.5 840.8 L140.4 840.8 L131.1 850.1 L127.9 848.6 L126.1 838.4 L115.7 829.7 L126.5 821.7 L127.4 811.5 L112.0 796.2 L114.9 794.8 L119.9 781.4 L110.1 777.7 L103.8 758.0 L105.1 754.8 L85.6 734.9 L80.0 729.0"/>
<path d="M712.8 886.8 C712.9 886.1 712.8 881.9 713.4 881.3 C714.0 880.7 716.2 882.6 717.1 882.6 C718.0 882.6 718.8 881.2 720.3 881.3 C721.8 881.4 726.1 883.2 728.3 883.1 C730.5 883.0 734.6 881.3 736.6 880.3 C738.6 879.3 741.8 876.9 743.1 875.7 C744.4 874.5 745.2 871.7 746.3 871.0 C747.4 870.3 750.3 870.2 751.5 870.7 C752.7 871.2 754.3 873.6 755.2 874.8 C756.1 876.0 757.1 878.8 758.0 879.4 C758.9 880.0 760.2 878.7 761.7 879.4 C763.2 880.1 767.2 884.1 769.1 884.4 C771.0 884.7 774.0 880.8 775.6 881.3 C777.2 881.8 779.5 885.9 781.2 887.8 C782.9 889.7 786.5 894.0 788.6 895.2 C790.7 896.4 795.0 896.2 797.0 897.1 C799.0 898.0 802.0 900.3 803.5 901.7 C805.0 903.1 806.7 905.9 808.2 907.3 C809.7 908.7 812.7 911.2 814.7 911.9 C816.7 912.6 821.3 911.9 823.0 912.8 C824.7 913.7 826.6 917.0 827.7 918.4 C828.8 919.8 830.5 921.9 831.4 923.1 C832.3 924.3 834.7 926.7 834.4 927.6 C834.1 928.5 830.3 928.6 828.8 929.5 C827.3 930.4 823.9 933.2 823.0 934.5 C822.1 935.8 822.1 938.0 822.2 939.4 C822.3 940.8 822.6 943.8 823.8 944.8 C825.0 945.8 830.2 946.0 831.2 946.9 C832.2 947.8 830.6 950.5 831.3 951.5 C832.0 952.5 835.6 953.6 836.7 954.5 C837.8 955.4 838.0 958.0 839.4 958.2 C840.8 958.4 845.5 955.9 847.4 956.3 C849.3 956.7 853.1 959.6 853.9 961.2 C854.7 962.8 853.7 966.0 853.4 968.2 C853.1 970.4 851.2 976.9 851.7 977.7 C852.2 978.5 855.6 974.6 856.9 974.3 C858.2 974.0 860.5 975.1 861.5 975.8 C862.5 976.5 864.3 978.6 864.3 979.9 C864.3 981.2 862.4 984.6 861.5 985.8 C860.6 987.0 858.7 987.4 857.8 988.8 C856.9 990.2 855.7 995.8 855.0 996.6 C854.3 997.4 852.7 995.7 852.2 994.8 C851.7 993.9 852.3 991.1 851.3 990.1 C850.3 989.1 846.4 987.0 844.8 987.0 C843.2 987.0 839.9 988.7 839.2 990.1 C838.5 991.5 839.3 995.8 839.8 997.5 C840.3 999.2 842.1 1002.0 843.0 1003.1 C843.9 1004.2 846.0 1004.8 846.7 1005.9 C847.4 1007.0 847.6 1011.0 848.5 1011.5 C849.4 1012.0 852.1 1009.7 853.2 1009.6 C854.3 1009.5 856.0 1009.7 856.9 1010.6 C857.8 1011.5 859.9 1014.5 859.7 1016.1 C859.5 1017.7 855.5 1021.0 855.4 1022.6 C855.3 1024.2 857.5 1027.0 858.7 1028.2 C859.9 1029.4 862.6 1029.9 864.3 1031.9 C866.0 1033.9 870.2 1041.7 871.8 1043.1 C873.4 1044.5 875.3 1041.7 876.4 1042.1 C877.5 1042.5 879.4 1045.0 880.1 1045.9 C880.8 1046.8 881.7 1048.6 882.0 1049.0"/>
</g>
<g stroke="#808080" stroke-opacity="0.5" stroke-width="0.7" stroke-dasharray="2.6 1.1" fill="none">
<path d="M215.5 1046.5 V45.5"/>
<path d="M344.5 1046.5 V45.5"/>
<path d="M474.5 1046.5 V45.5"/>
<path d="M604.5 1046.5 V45.5"/>
<path d="M733.5 1046.5 V45.5"/>
<path d="M863.5 1046.5 V45.5"/>
<path d="M85.5 96.5 H992.5"/>
<path d="M85.5 247.5 H992.5"/>
<path d="M85.5 398.5 H992.5"/>
<path d="M85.5 548.5 H992.5"/>
<path d="M85.5 698.5 H992.5"/>
<path d="M85.5 848.5 H992.5"/>
<path d="M85.5 996.5 H992.5"/>
</g>
<circle cx="829.2" cy="237" r="5.25" fill="#ee1111" stroke="#000" stroke-width="1.3"/>
<path d="M429.4 374.2 V382.8 M425.7 378.5 H433.1" stroke="#000" stroke-width="1.2" fill="none"/><circle cx="427.2" cy="378.5" r="1.5" fill="#000"/><circle cx="431.6" cy="378.5" r="1.5" fill="#000"/>
<text transform="translate(398.10 367.70) scale(1.1281 1)" font-size="20.40" font-weight="bold" stroke="#000" stroke-width="0.24">Wiltz</text>
<path d="M539.5 494.2 V502.8 M535.8 498.5 H543.2" stroke="#000" stroke-width="1.2" fill="none"/><circle cx="537.3" cy="498.5" r="1.5" fill="#000"/><circle cx="541.7" cy="498.5" r="1.5" fill="#000"/>
<text transform="translate(507.31 487.80) scale(1.1267 1)" font-size="20.40" font-weight="bold" stroke="#000" stroke-width="0.24">Ettelbruck</text>
<path d="M610.4 717.2 V725.8 M606.7 721.5 H614.1" stroke="#000" stroke-width="1.2" fill="none"/><circle cx="608.2" cy="721.5" r="1.5" fill="#000"/><circle cx="612.6" cy="721.5" r="1.5" fill="#000"/>
<text transform="translate(578.03 710.70) scale(1.1095 1)" font-size="20.40" font-weight="bold" stroke="#000" stroke-width="0.24">Findel</text>
<path d="M467.5 844.3 V852.9 M463.8 848.6 H471.2" stroke="#000" stroke-width="1.2" fill="none"/><circle cx="465.3" cy="848.6" r="1.5" fill="#000"/><circle cx="469.7" cy="848.6" r="1.5" fill="#000"/>
<text transform="translate(435.93 837.50) scale(1.1112 1)" font-size="20.40" font-weight="bold" stroke="#000" stroke-width="0.24">Esch/Alzette</text>
<rect x="94.6" y="50.3" width="217.9" height="50.1" fill="#fff" stroke="#000" stroke-width="1.1"/>
<text transform="translate(99.87 69.60) scale(1.0585 1)" font-size="17.50" stroke="#000" stroke-width="0.21">Product:</text>
<text transform="translate(174.55 69.60) scale(1.0752 1)" font-size="17.50" stroke="#000" stroke-width="0.21">0.5°</text>
<text transform="translate(213.88 69.60) scale(1.0887 1)" font-size="17.50" stroke="#000" stroke-width="0.21">Reflectivity</text>
<text transform="translate(99.83 90.40) scale(1.0849 1)" font-size="17.50" stroke="#000" stroke-width="0.21">Data:</text>
<text transform="translate(150.59 90.40) scale(1.0038 1)" font-size="17.50" stroke="#000" stroke-width="0.21">DWD</text>
</g>
<rect x="85.5" y="45.5" width="907.0" height="1001.0" fill="none" stroke="#000" stroke-width="1.1"/>
<text transform="translate(344.02 37.80) scale(1.0894 1)" font-size="36.40" stroke="#000" stroke-width="0.44">26.01.2026</text>
<text transform="translate(554.73 37.80) scale(1.0874 1)" font-size="36.40" stroke="#000" stroke-width="0.44">18:43</text>
<text transform="translate(665.59 37.80) scale(0.9191 1)" font-size="36.40" stroke="#000" stroke-width="0.44">UTC</text>
<text transform="translate(10.15 100.60) scale(1.0679 1)" font-size="17.50" stroke="#000" stroke-width="0.21">50.25°N</text>
<text transform="translate(21.06 251.80) scale(1.0594 1)" font-size="17.50" stroke="#000" stroke-width="0.21">50.1°N</text>
<text transform="translate(11.24 402.70) scale(1.0601 1)" font-size="17.50" stroke="#000" stroke-width="0.21">49.95°N</text>
<text transform="translate(21.34 552.80) scale(1.0541 1)" font-size="17.50" stroke="#000" stroke-width="0.21">49.8°N</text>
<text transform="translate(11.24 702.80) scale(1.0601 1)" font-size="17.50" stroke="#000" stroke-width="0.21">49.65°N</text>
<text transform="translate(21.34 852.80) scale(1.0541 1)" font-size="17.50" stroke="#000" stroke-width="0.21">49.5°N</text>
<text transform="translate(11.24 1001.80) scale(1.0601 1)" font-size="17.50" stroke="#000" stroke-width="0.21">49.35°N</text>
<text transform="translate(193.14 1066.70) scale(1.0165 1)" font-size="17.50" stroke="#000" stroke-width="0.21">5.6°E</text>
<text transform="translate(321.98 1066.70) scale(1.0298 1)" font-size="17.50" stroke="#000" stroke-width="0.21">5.8°E</text>
<text transform="translate(459.03 1066.70) scale(0.9935 1)" font-size="17.50" stroke="#000" stroke-width="0.21">6°E</text>
<text transform="translate(580.70 1066.70) scale(1.0269 1)" font-size="17.50" stroke="#000" stroke-width="0.21">6.2°E</text>
<text transform="translate(710.90 1066.70) scale(1.0293 1)" font-size="17.50" stroke="#000" stroke-width="0.21">6.4°E</text>
<text transform="translate(839.80 1066.70) scale(1.0293 1)" font-size="17.50" stroke="#000" stroke-width="0.21">6.6°E</text>
<rect x="1050.5" y="95.50" width="45.0" height="901.00" fill="#ea33ea"/>
<rect x="1050.5" y="127.68" width="45.0" height="868.82" fill="#ff6eff"/>
<rect x="1050.5" y="159.86" width="45.0" height="836.64" fill="#ffb4ff"/>
<rect x="1050.5" y="192.04" width="45.0" height="804.46" fill="#ffdcff"/>
<rect x="1050.5" y="224.21" width="45.0" height="772.29" fill="#780000"/>
<rect x="1050.5" y="256.39" width="45.0" height="740.11" fill="#9b0000"/>
<rect x="1050.5" y="288.57" width="45.0" height="707.93" fill="#be0000"/>
<rect x="1050.5" y="320.75" width="45.0" height="675.75" fill="#e10000"/>
<rect x="1050.5" y="352.93" width="45.0" height="643.57" fill="#ff7d00"/>
<rect x="1050.5" y="385.11" width="45.0" height="611.39" fill="#ff9b00"/>
<rect x="1050.5" y="417.29" width="45.0" height="579.21" fill="#ffb900"/>
<rect x="1050.5" y="449.46" width="45.0" height="547.04" fill="#ffd700"/>
<rect x="1050.5" y="481.64" width="45.0" height="514.86" fill="#afaf05"/>
<rect x="1050.5" y="513.82" width="45.0" height="482.68" fill="#467a0a"/>
<rect x="1050.5" y="546.00" width="45.0" height="450.50" fill="#0a5a0f"/>
<rect x="1050.5" y="578.18" width="45.0" height="418.32" fill="#0a730f"/>
<rect x="1050.5" y="610.36" width="45.0" height="386.14" fill="#0f8c14"/>
<rect x="1050.5" y="642.54" width="45.0" height="353.96" fill="#0fa014"/>
<rect x="1050.5" y="674.71" width="45.0" height="321.79" fill="#0fb419"/>
<rect x="1050.5" y="706.89" width="45.0" height="289.61" fill="#0fc819"/>
<rect x="1050.5" y="739.07" width="45.0" height="257.43" fill="#3cd76e"/>
<rect x="1050.5" y="771.25" width="45.0" height="225.25" fill="#64d7be"/>
<rect x="1050.5" y="803.43" width="45.0" height="193.07" fill="#64c3dc"/>
<rect x="1050.5" y="835.61" width="45.0" height="160.89" fill="#5aa0c8"/>
<rect x="1050.5" y="867.79" width="45.0" height="128.71" fill="#4b7db4"/>
<rect x="1050.5" y="899.96" width="45.0" height="96.54" fill="#465fa0"/>
<rect x="1050.5" y="932.14" width="45.0" height="64.36" fill="#5064a0"/>
<rect x="1050.5" y="964.32" width="45.0" height="32.18" fill="#6473a5"/>
<rect x="1050.5" y="95.5" width="45.0" height="901.0" fill="none" stroke="#000" stroke-width="1.1"/>
<path d="M1095.5 95.5 H1100.8" stroke="#000" stroke-width="1.1"/>
<text transform="translate(1105.34 105.60) scale(1.0341 1)" font-size="29.20" stroke="#000" stroke-width="0.35">70</text>
<path d="M1095.5 224.5 H1100.8" stroke="#000" stroke-width="1.1"/>
<text transform="translate(1106.18 234.80) scale(1.0391 1)" font-size="29.20" stroke="#000" stroke-width="0.35">60</text>
<path d="M1095.5 353.5 H1100.8" stroke="#000" stroke-width="1.1"/>
<text transform="translate(1105.49 363.80) scale(1.0324 1)" font-size="29.20" stroke="#000" stroke-width="0.35">50</text>
<path d="M1095.5 481.5 H1100.8" stroke="#000" stroke-width="1.1"/>
<text transform="translate(1106.09 491.80) scale(1.0421 1)" font-size="29.20" stroke="#000" stroke-width="0.35">40</text>
<path d="M1095.5 610.5 H1100.8" stroke="#000" stroke-width="1.1"/>
<text transform="translate(1105.65 620.80) scale(1.0274 1)" font-size="29.20" stroke="#000" stroke-width="0.35">30</text>
<path d="M1095.5 739.5 H1100.8" stroke="#000" stroke-width="1.1"/>
<text transform="translate(1105.13 749.80) scale(1.0725 1)" font-size="29.20" stroke="#000" stroke-width="0.35">20</text>
<path d="M1095.5 867.5 H1100.8" stroke="#000" stroke-width="1.1"/>
<text transform="translate(1105.37 878.70) scale(1.0651 1)" font-size="29.20" stroke="#000" stroke-width="0.35">10</text>
<path d="M1095.5 996.5 H1100.8" stroke="#000" stroke-width="1.1"/>
<text transform="translate(1106.70 1006.70) scale(1.0310 1)" font-size="29.20" stroke="#000" stroke-width="0.35">0</text>
<text transform="translate(1169.00 575.68) rotate(-90) scale(1.0090 1)" font-size="29.20" stroke="#000" stroke-width="0.35">dBZ</text>
</svg></body></html>
